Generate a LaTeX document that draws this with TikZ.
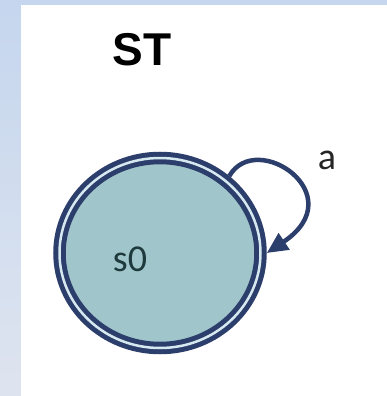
\documentclass[tikz,border=0pt]{standalone}
\usepackage{fontspec}
\usepackage{tikz}
\usetikzlibrary{positioning,arrows.meta,shapes.geometric}
\setmainfont{Carlito}
\newfontfamily\titlefont{Liberation Sans}
\definecolor{colring}{HTML}{2C3E6B}
\definecolor{colstate}{HTML}{A0C6CC}
\definecolor{colgap}{HTML}{D6E9F0}
\definecolor{colbgtop}{HTML}{C5D6EE}
\definecolor{colbgbot}{HTML}{DEE4EF}
\definecolor{collabel}{HTML}{1F3A3C}

\begin{document}
\begin{tikzpicture}[x=1pt, y=-1pt,
    state/.style={ellipse, draw=colring, line width=5pt, double=colgap, double distance=2.5pt,
      fill=colstate, minimum width=201pt, minimum height=190pt, inner sep=0pt, outer sep=6.25pt},
    trans/.style={-{Triangle[length=21pt,width=19pt]}, line width=4.5pt, colring}]
    \useasboundingbox (0,0) rectangle (387,396);
    \shade[top color=colbgtop, bottom color=colbgbot] (0,0) rectangle (387,396);
    \fill[white] (21,5) rectangle (387,396);
    \node (title) at (142,50) {\titlefont\bfseries\fontsize{46}{52}\selectfont ST};
    \node[state] (s0) at (160,253) {};
    \node[text=collabel] (s0lbl) at (130,259) {\fontsize{38}{44}\selectfont s0};
    \node[text=black!85] (lbla) at (327,160) {\fontsize{38}{44}\selectfont a};
    \draw[trans] (s0.48) .. controls +(27,-47) and +(87,-58) .. (s0.0);
  \end{tikzpicture}
\end{document}
